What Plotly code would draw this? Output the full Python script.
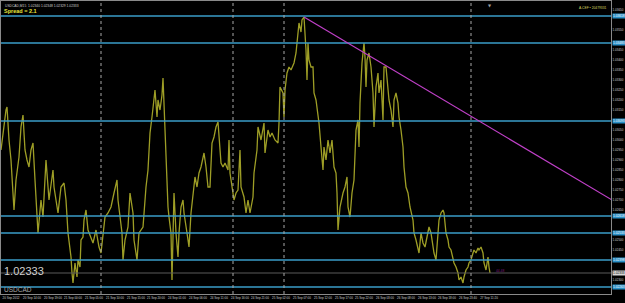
import plotly.graph_objects as go

# ---------------- data ----------------
symbol = "USDCAD"
bid = 1.02333
header_text = "USDCAD,M15  1.02340 1.02348 1.02329 1.02333"
spread_text = "Spread = 2.1"
corner_text = "A.CEF • 20479331"

bars = [0,2,4,5,6,7,8,10,12,13,15,17,18,20,22,23,24,26,28,30,32,34,35,36,37,40,42,45,47,48,
        52,53,57,60,63,65,67,68,70,71,72,74,76,77,79,80,82,83,85,87,90,92,95,98,100,102,104,107,110,113,
        116,117,119,121,122,124,127,129,132,133,136,138,142,143,145,147,149,151,153,154,156,157,159,161,162,163,164,165,167,168,
        170,171,172,173,175,177,178,180,182,183,186,188,190,193,194,196,198,200,203,205,207,209,211,213,215,217,218,220,222,224,
        227,228,229,232,233,235,237,239,240,243,245,247,249,252,253,256,257,260,263,264,267,269,271,274,277,278,279,282,283,284,
        286,288,290,293,295,297,298,300,301,303,305,306,307,308,310,312,313,315,317,318,320,322,323,325,327,329,331,332,333,335,
        336,337,338,339,342,344,346,347,349,351,353,354,355,357,358,359,360,361,363,364,365,366,368,370,372,373,375,377,378,380,
        382,383,385,387,388,390,392,393,395,397,398,400,402,403,405,407,409,412,413,415,417,418,420,422,424,427,428,430,432,433,
        435,437,438,440,442,443,445,447,448,450,452,453,455,457,458,460,462,463,465,467,468,470,472,473,475,477,478,480,482,483,
        485,486,487,488,489]

close = [1.02948,1.03023,1.03123,1.03148,1.03163,1.03073,1.02998,1.02898,1.02763,1.02648,1.02798,1.02863,1.02913,1.03063,1.03123,1.03033,1.02948,1.02898,1.02863,1.02948,
         1.02983,1.02798,1.02698,1.02563,1.02533,1.02698,1.02613,1.02898,1.02763,1.02698,1.02848,1.02763,1.02633,1.02763,1.02783,1.02698,1.02533,1.02498,1.02413,1.02333,
         1.02283,1.02383,1.02313,1.02398,1.02363,1.02498,1.02513,1.02598,1.02648,1.02548,1.02513,1.02483,1.02548,1.02463,1.02433,1.02533,1.02613,1.02633,1.02663,1.02733,
         1.02798,1.02698,1.02613,1.02533,1.02398,1.02498,1.02563,1.02733,1.02633,1.02498,1.02398,1.02533,1.02563,1.02633,1.02763,1.02848,1.03033,1.03113,1.03213,1.03248,
         1.03113,1.03198,1.03148,1.03223,1.03308,1.03173,1.03063,1.02898,1.02663,1.02613,1.02533,1.02298,1.02563,1.02733,1.02533,1.02413,1.02533,1.02663,1.02698,1.02633,
         1.02533,1.02463,1.02633,1.02763,1.02813,1.02763,1.02833,1.02863,1.02933,1.02863,1.02763,1.02763,1.02983,1.03013,1.03063,1.03088,1.02998,1.02883,1.02863,1.02883,
         1.02848,1.02998,1.02833,1.02733,1.02698,1.02733,1.02748,1.02948,1.02763,1.02713,1.02633,1.02698,1.02633,1.02713,1.02833,1.02948,1.03063,1.02998,1.03083,1.02933,
         1.03048,1.03013,1.03033,1.02998,1.02983,1.03083,1.03263,1.03233,1.03113,1.03248,1.03333,1.03363,1.03348,1.03383,1.03433,1.03533,1.03583,1.03538,1.03598,1.03613,
         1.03448,1.03298,1.03483,1.03398,1.03363,1.03363,1.03233,1.03198,1.03113,1.03083,1.02963,1.02848,1.02963,1.02898,1.02998,1.02933,1.02998,1.02898,1.02863,1.02833,
         1.02733,1.02548,1.02613,1.02663,1.02733,1.02763,1.02813,1.02663,1.02613,1.02733,1.02798,1.02933,1.03048,1.03098,1.02963,1.03183,1.03298,1.03383,1.03483,1.03413,
         1.03263,1.03398,1.03433,1.03363,1.03233,1.03063,1.03263,1.03333,1.03233,1.03298,1.03098,1.03363,1.03363,1.03233,1.03198,1.03148,1.03063,1.03198,1.03233,1.03183,
         1.03113,1.03048,1.02963,1.02863,1.02763,1.02733,1.02663,1.02598,1.02533,1.02498,1.02463,1.02433,1.02533,1.02483,1.02463,1.02548,1.02563,1.02533,1.02463,1.02433,
         1.02398,1.02533,1.02598,1.02633,1.02648,1.02633,1.02533,1.02498,1.02463,1.02448,1.02398,1.02383,1.02363,1.02333,1.02298,1.02313,1.02283,1.02313,1.02348,1.02363,
         1.02383,1.02398,1.02433,1.02448,1.02433,1.02458,1.02448,1.02463,1.02433,1.02383,1.02348,1.02383,1.02413,1.02363,1.02333]

levels = [1.03618, 1.03483, 1.03093, 1.02618, 1.02533, 1.02398, 1.02263]

trend_bars = [303, 611]
trend_prices = [1.03613, 1.02698]

separator_bars = [100, 232, 283, 470]

time_tick_bars = [10, 31, 52, 72, 93, 114, 135, 155, 176, 197, 218, 239,
                  259, 280, 301, 322, 343, 363, 384, 405, 426, 446, 467, 488]
time_tick_text = ["20 Sep 2012", "20 Sep 14:00", "20 Sep 19:00", "21 Sep 00:00", "21 Sep 05:00",
                  "21 Sep 10:00", "21 Sep 15:00", "21 Sep 20:00", "24 Sep 01:00", "24 Sep 06:00",
                  "24 Sep 11:00", "24 Sep 16:00", "24 Sep 21:00", "25 Sep 02:00", "25 Sep 07:00",
                  "25 Sep 12:00", "25 Sep 17:00", "25 Sep 22:00", "26 Sep 03:00", "26 Sep 08:00",
                  "26 Sep 13:00", "26 Sep 18:00", "26 Sep 23:40", "27 Sep 11:20"]

price_ticks_all = [1.02250 + 0.0005 * i for i in range(29)]

# ---------------- figure ----------------
W, H = 625, 303
TINY = "Liberation Sans Narrow, Liberation Sans, DejaVu Sans Condensed, sans-serif"
fig = go.Figure()

fig.add_trace(go.Scatter(x=bars, y=close, mode="lines",
                         line=dict(color="#9e9e26", width=1.3), hoverinfo="skip"))

shapes = []
for lv in levels:
    shapes.append(dict(type="line", xref="paper", x0=0, x1=1, yref="y", y0=lv, y1=lv,
                       line=dict(color="#3a9cc8", width=1.5)))
shapes.append(dict(type="line", xref="paper", x0=0, x1=1, yref="y", y0=bid, y1=bid,
                   line=dict(color="#5a5a5a", width=1)))
for sb in separator_bars:
    shapes.append(dict(type="line", xref="x", x0=sb, x1=sb, yref="paper", y0=0, y1=1,
                       line=dict(color="#a8a8a8", width=1, dash="dot")))
shapes.append(dict(type="line", xref="x", x0=trend_bars[0], x1=trend_bars[1],
                   yref="y", y0=trend_prices[0], y1=trend_prices[1],
                   line=dict(color="#c040c8", width=1.2)))

# plain price labels, leaving room for the highlighted level labels
marked = levels + [bid]
price_ticks = [v for v in price_ticks_all if min(abs(v - m) for m in marked) > 0.00022]

ann = []
for lv in levels:
    ann.append(dict(xref="paper", x=1.0, xanchor="left", xshift=1, yref="y", y=lv, yanchor="middle",
                    text=f"{lv:.5f}", showarrow=False, bgcolor="#2a90c8",
                    font=dict(size=3.2, color="#ffffff", family=TINY), borderpad=0))
ann.append(dict(xref="paper", x=1.0, xanchor="left", xshift=1, yref="y", y=bid, yanchor="middle",
                text=f"{bid:.5f}", showarrow=False, bgcolor="#d8d8d8",
                font=dict(size=3.2, color="#000000", family=TINY), borderpad=0))
ann.append(dict(xref="paper", x=0.003, xanchor="left", yref="paper", y=0.998, yanchor="top",
                text=header_text, showarrow=False,
                font=dict(size=3.3, color="#cfcfcf", family=TINY)))
ann.append(dict(xref="paper", x=0.002, xanchor="left", yref="paper", y=0.982, yanchor="top",
                text="<b>" + spread_text + "</b>", showarrow=False,
                font=dict(size=5.5, color="#e8e83c", family="Liberation Sans")))
ann.append(dict(xref="paper", x=0.997, xanchor="right", yref="paper", y=0.99, yanchor="top",
                text=corner_text, showarrow=False,
                font=dict(size=3.3, color="#d8d860", family=TINY)))
ann.append(dict(xref="paper", x=0.002, xanchor="left", yref="paper", y=0.05, yanchor="bottom",
                text=f"{bid:.5f}", showarrow=False,
                font=dict(size=11, color="#d0d0d0", family="Liberation Sans")))
ann.append(dict(xref="paper", x=0.002, xanchor="left", yref="paper", y=-0.005, yanchor="bottom",
                text=symbol, showarrow=False,
                font=dict(size=6.5, color="#a8a8a8", family="Liberation Sans")))
ann.append(dict(xref="x", x=bars[-1] + 4, xanchor="left", yref="y", y=bid + 0.00012, yanchor="middle",
                text="44.48", showarrow=False,
                font=dict(size=3.3, color="#7a1a7a", family=TINY)))
ann.append(dict(xref="x", x=bars[-1], xanchor="center", yref="paper", y=1.0, yanchor="top",
                text="▼", showarrow=False,
                font=dict(size=4, color="#a0a0a0", family="DejaVu Sans")))

fig.update_layout(
    width=W, height=H,
    margin=dict(l=1, r=14, t=1, b=9, autoexpand=False),
    paper_bgcolor="#000000", plot_bgcolor="#000000",
    showlegend=False,
    shapes=shapes, annotations=ann,
    xaxis=dict(range=[0, 610], showgrid=False, zeroline=False, automargin=False,
               tickmode="array", tickvals=time_tick_bars, ticktext=time_tick_text,
               tickangle=0,
               tickfont=dict(size=3, color="#cfcfcf", family=TINY),
               ticks="", showline=True, linecolor="#8a8a8a", linewidth=1, mirror=True),
    yaxis=dict(range=[1.02228, 1.03693], side="right", showgrid=False, zeroline=False,
               automargin=False,
               tickmode="array", tickvals=price_ticks,
               ticktext=[f"{v:.5f}" for v in price_ticks],
               tickfont=dict(size=3, color="#cfcfcf", family=TINY),
               ticks="", showline=True, linecolor="#8a8a8a", linewidth=1, mirror=True),
)

fig.write_html("out.html", config={"displayModeBar": False})
